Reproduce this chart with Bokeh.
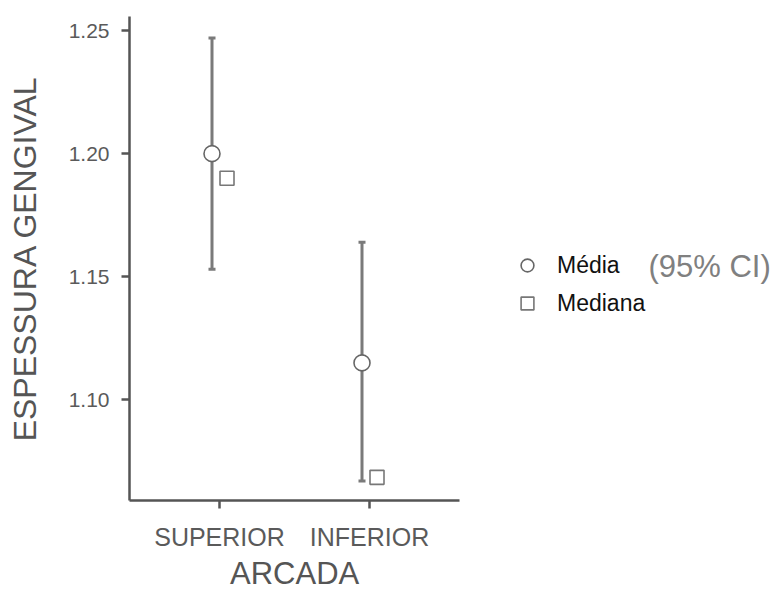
from bokeh.plotting import figure
from bokeh.models import (ColumnDataSource, Whisker, TeeHead, FixedTicker, Legend,
                          LegendItem, Label, Range1d, Title)
from bokeh.embed import file_html
from bokeh.resources import INLINE

# ---- data ----
categories = ["SUPERIOR", "INFERIOR"]
means = [1.200, 1.115]
ci_lower = [1.153, 1.067]
ci_upper = [1.247, 1.164]
medians = [1.190, 1.0685]
y_ticks = [1.10, 1.15, 1.20, 1.25]
x_title = "ARCADA"
y_title = "ESPESSURA GENGIVAL"

# ---- layout constants ----
W, H = 777, 590
LEFT, TOP, RIGHT = 129, 16, 2
x_lo = 0.4
x_axis_end = 2.6          # where the visible x-axis line stops
px_per_x = 150.0
x_hi = x_lo + (W - LEFT - RIGHT) / px_per_x
y_lo, y_hi = 1.0591, 1.2557

pos = list(range(1, len(categories) + 1))
dodge = 0.05
mean_x = [p_ - dodge for p_ in pos]
med_x = [p_ + dodge for p_ in pos]

src = ColumnDataSource(dict(mx=mean_x, dx=med_x, mean=means, lo=ci_lower,
                            hi=ci_upper, med=medians))

p = figure(width=W, height=H, output_backend="svg", toolbar_location=None,
           x_range=Range1d(x_lo, x_hi), y_range=Range1d(y_lo, y_hi),
           min_border_left=LEFT, min_border_right=RIGHT, min_border_top=TOP,
           min_border_bottom=0)
p.outline_line_color = None
p.xgrid.visible = False
p.ygrid.visible = False
p.background_fill_color = "white"
p.border_fill_color = "white"

axis_col = "#555555"
for ax in (p.xaxis[0], p.yaxis[0]):
    ax.axis_line_color = axis_col
    ax.axis_line_width = 2.5
    ax.major_tick_line_color = axis_col
    ax.major_tick_line_width = 2.5
    ax.major_tick_out = 8
    ax.major_tick_in = 0
    ax.minor_tick_line_color = None
    ax.major_label_text_color = "#5a5a5a"
    ax.axis_label_text_color = "#555555"
    ax.axis_label_text_font = "Liberation Sans"
    ax.major_label_text_font = "Liberation Sans"
    ax.axis_label_text_font_style = "normal"

p.yaxis.ticker = FixedTicker(ticks=y_ticks)
p.yaxis.major_label_overrides = {t: f"{t:.2f}" for t in y_ticks}
p.yaxis.major_label_text_font_size = "21px"
p.yaxis.major_label_standoff = 12
p.yaxis.axis_label = y_title
p.yaxis.axis_label_text_font_size = "32px"
p.yaxis.axis_label_standoff = 23

p.xaxis.bounds = (x_lo, x_axis_end)
p.xaxis.ticker = FixedTicker(ticks=pos)
p.xaxis.major_label_overrides = {pp: c for pp, c in zip(pos, categories)}
p.xaxis.major_label_text_font_size = "25px"
p.xaxis.major_label_standoff = 14

# x-axis title centred under the visible axis segment (not the whole frame)
x_title_center_px = (x_axis_end + x_lo) / 2 - x_lo
title_w_est = 129
xt = Title(text=x_title, align="left",
           offset=x_title_center_px * px_per_x - title_w_est / 2,
           text_font="Liberation Sans", text_font_size="31px",
           text_font_style="normal", text_color="#555555", standoff=0)
p.add_layout(xt, "below")

bar_col = "#7a7a7a"
w = Whisker(source=src, base="mx", upper="hi", lower="lo", dimension="height",
            line_color=bar_col, line_width=3,
            upper_head=TeeHead(size=7, line_color=bar_col, line_width=3),
            lower_head=TeeHead(size=7, line_color=bar_col, line_width=3))
p.add_layout(w)

r_mean = p.scatter("mx", "mean", source=src, marker="circle", size=16,
                   fill_color="white", line_color="#666666", line_width=1.6)
r_med = p.scatter("dx", "med", source=src, marker="square", size=14,
                  fill_color="white", line_color="#777777", line_width=1.6)

legend = Legend(items=[LegendItem(label="Média", renderers=[r_mean]),
                       LegendItem(label="Mediana", renderers=[r_med])],
                location=(382, 181), orientation="vertical",
                background_fill_alpha=0, border_line_color=None,
                padding=0, margin=0, spacing=6,
                glyph_width=32, glyph_height=32, label_height=32,
                label_standoff=14,
                label_text_font="Liberation Sans", label_text_font_size="23px",
                label_text_color="#111111", label_text_baseline="middle")
p.add_layout(legend, "center")

ci_lab = Label(x=x_lo + (648 - LEFT) / px_per_x, y=1.1540, text="(95% CI)",
               text_font="Liberation Sans", text_font_size="31px",
               text_color="#808080", text_baseline="middle", text_align="left")
p.add_layout(ci_lab)

open("out.html", "w").write(file_html(p, INLINE))
